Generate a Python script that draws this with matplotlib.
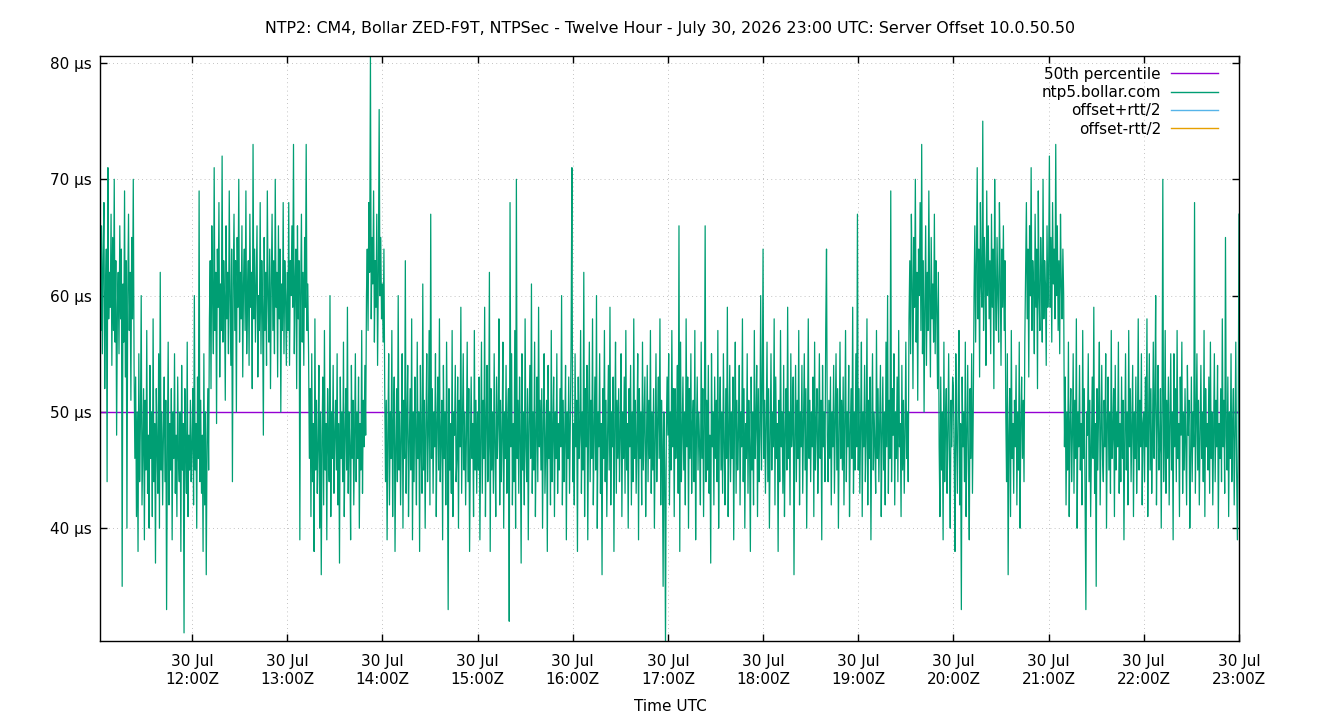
import pandas as pd
import matplotlib
matplotlib.use("Agg")
import matplotlib.pyplot as plt
import matplotlib.dates as mdates
from matplotlib.lines import Line2D

# offset samples (µs), 30 s apart, one list per hour
h11 = [61, 57, 66, 55, 63, 68, 52, 60, 64, 44, 71, 58, 62, 59, 67, 54, 65, 57, 70, 56,
       63, 48, 59, 62, 55, 66, 58, 64, 35, 61, 56, 69, 53, 63, 40, 60, 67, 57, 62, 51,
       65, 58, 70, 54,
       46, 53, 41, 50, 38, 55, 44, 49, 60, 42, 47, 52, 39, 51, 45, 57, 43, 48, 40, 54,
       46, 50, 41, 58, 44, 49, 37, 52, 47, 43, 55, 40, 62, 45, 50, 42, 48, 53, 44, 51,
       33, 47, 56, 42, 49, 45, 52, 39, 50, 46, 55, 43, 48, 41, 53, 46, 44, 50, 38, 54,
       45, 49, 31, 52, 47, 43, 56, 41, 48, 45, 51, 44]
h12 = [47, 52, 42, 60, 45, 49, 40, 53, 46, 69, 44, 51, 43, 48, 38, 55, 42, 50, 36, 47,
       52, 45,
       58, 63, 52, 66, 60, 55, 71, 57, 62, 49, 64, 59, 68, 53, 61, 57, 72, 56, 63, 60,
       51, 66, 58, 62, 55, 69, 60, 54, 64, 44, 61, 67, 57, 63, 50, 65, 59, 70, 56, 62,
       58, 66, 53, 61, 64, 57, 69, 55, 60, 63, 54, 67, 59, 62, 52, 73, 58, 64, 56, 61,
       66, 53, 60, 57, 68, 55, 63, 59, 48, 65, 57, 62, 54, 69, 60, 56, 64, 52, 61, 67,
       57, 63, 55, 70, 59, 62, 53, 66, 58, 64, 50, 61, 57, 68, 55, 63, 60, 54]
h13 = [62, 57, 68, 54, 63, 60, 66, 59, 73, 55, 61, 64, 52, 66, 58, 63, 39, 60, 67, 56,
       62, 54, 65, 59, 73, 57, 61, 55,
       46, 52, 41, 55, 44, 49, 38, 58, 45, 51, 43, 47, 54, 40, 50, 36, 48, 53, 42, 57,
       45, 49, 39, 52, 47, 44, 60, 41, 50, 46, 54, 43, 48, 51, 45, 55, 42, 49, 37, 53,
       46, 50, 44, 56, 41, 48, 52, 45, 59, 43, 50, 47, 39, 54, 46, 51, 42, 48, 55, 44,
       50, 46, 53, 40, 49, 45, 57, 43, 51, 47, 54, 48,
       60, 64, 57, 68, 62, 80.6, 58, 65, 61, 69, 56, 63, 59, 67, 54, 62, 76, 60, 65, 58]
h14 = [61, 56, 64, 52,
       44, 51, 39, 48, 55, 42, 50, 46, 57, 41, 49, 53, 38, 47, 52, 44, 60, 45, 50, 42,
       48, 55, 40, 51, 46, 63, 43, 49, 54, 41, 47, 52, 45, 58, 39, 50, 44, 53, 48, 42,
       56, 46, 50, 38, 54, 47, 43, 61, 45, 51, 40, 49, 55, 44, 48, 57, 42, 67, 46, 52,
       43, 50, 47, 55, 41, 49, 53, 45, 58, 44, 48, 51, 39, 54, 46, 50, 42, 56, 47, 33,
       52, 45, 49, 43, 57, 41, 50, 48, 54, 44, 46, 53, 40, 51, 47, 59, 43, 49, 55, 45,
       50, 42, 48, 56, 44, 52, 38, 47, 53, 46, 49, 41, 57, 45, 51, 43]
h15 = [50, 45, 53, 39, 48, 56, 43, 51, 46, 59, 41, 49, 54, 44, 47, 62, 38, 52, 45, 50,
       43, 55, 47, 41, 53, 46, 49, 58, 42, 51, 44, 48, 56, 40, 50, 46, 54, 43, 49, 52,
       32, 68, 47, 55, 42, 49, 44, 57, 40, 70, 46, 51, 43, 53, 48, 37, 55, 45, 50, 42,
       58, 47, 44, 52, 39, 49, 54, 46, 61, 43, 50, 45, 56, 41, 48, 53, 44, 59, 47, 51,
       45, 52, 40, 49, 55, 43, 47, 51, 38, 54, 46, 50, 42, 57, 44, 48, 53, 41, 50, 46,
       55, 43, 49, 45, 52, 47, 60, 42, 51, 44, 48, 54, 39, 50, 46, 53, 43, 49, 56, 71]
h16 = [44, 49, 42, 55, 47, 51, 38, 53, 46, 48, 57, 43, 50, 45, 62, 41, 52, 47, 54, 39,
       49, 56, 44, 51, 46, 58, 42, 48, 53, 45, 60, 40, 50, 47, 55, 43, 49, 36, 52, 46,
       57, 44, 51, 41, 48, 54, 45, 59, 42, 50, 47, 53, 38, 49, 56, 43, 51, 46, 52, 44,
       48, 55, 41, 50, 46, 53, 43, 57, 45, 49, 40, 52, 47, 54, 42, 50, 44, 58, 46, 51,
       43, 48, 55, 39, 52, 46, 50, 42, 56, 45, 49, 53, 41, 47, 54, 44, 51, 46, 57, 43,
       50, 45, 52, 40, 48, 55, 44, 49, 53, 46, 58, 42, 51, 47, 35, 50, 45, 30, 48, 53]
h17 = [48, 55, 42, 50, 45, 57, 47, 52, 41, 52, 46, 49, 54, 43, 66, 38, 56, 44, 48, 53,
       45, 50, 42, 58, 47, 53, 40, 52, 46, 55, 43, 49, 51, 44, 57, 39, 48, 53, 45, 50,
       47, 42, 56, 46, 52, 41, 49, 66, 44, 51, 45, 54, 43, 48, 37, 55, 47, 50, 42, 53,
       46, 51, 44, 57, 40, 49, 53, 45, 50, 43, 55, 47, 42, 52, 46, 59, 41, 48, 54, 44,
       50, 46, 53, 39, 49, 56, 43, 51, 45, 48, 54, 42, 50, 47, 58, 44, 52, 40, 49, 46,
       55, 43, 51, 47, 38, 53, 45, 50, 42, 57, 46, 49, 54, 41, 52, 44, 48, 60, 45, 51]
h18 = [64, 46, 51, 43, 49, 56, 44, 52, 40, 48, 55, 45, 50, 47, 58, 42, 53, 46, 49, 38,
       51, 44, 57, 47, 50, 43, 54, 41, 48, 52, 45, 59, 46, 50, 42, 55, 47, 49, 53, 36,
       48, 54, 44, 51, 46, 57, 42, 50, 47, 54, 43, 49, 55, 45, 52, 40, 48, 58, 46, 51,
       44, 50, 47, 53, 41, 56, 45, 49, 52, 43, 48, 55, 46, 51, 39, 54, 47, 50, 44, 57,
       64, 48, 44, 51, 46, 53, 42, 50, 47, 54, 43, 49, 55, 45, 52, 40, 48, 56, 46, 51,
       45, 53, 42, 49, 57, 44, 50, 47, 54, 41, 48, 52, 46, 59, 43, 50, 45, 55, 47, 67]
h19 = [45, 52, 43, 49, 56, 41, 50, 47, 54, 44, 48, 58, 42, 51, 46, 53, 39, 49, 55, 45,
       50, 47, 43, 57, 46, 52, 44, 49, 54, 41, 48, 53, 45, 50, 42, 56, 47, 60, 43, 51,
       46, 69, 44, 52, 48, 55, 42, 50, 46, 53, 44, 57, 47, 49, 41, 54, 45, 51, 43, 48,
       56, 46, 50, 44,
       58, 63, 55, 67, 61, 52, 65, 59, 70, 56, 62, 51, 64, 60, 68, 57, 73, 55, 63, 50,
       59, 66, 54, 62, 57, 69, 60, 53, 65, 58, 61, 56, 67, 55, 63, 59, 52, 62,
       47, 41, 53, 45, 50, 39, 56, 44, 49, 52, 43, 48, 55, 46, 40, 51, 47, 53]
h20 = [52, 46, 38, 55, 48, 43, 51, 57, 42, 49, 33, 53, 47, 50, 44, 56, 41, 48, 54, 45,
       39, 52, 46, 55, 43, 50,
       60, 66, 56, 63, 71, 58, 64, 53, 68, 61, 59, 75, 57, 65, 62, 54, 69, 60, 66, 58,
       63, 55, 67, 59, 64, 52, 70, 61, 57, 65, 60, 56, 68, 62, 54, 64, 59, 66, 57, 63,
       50, 44, 55, 36, 48, 52, 41, 57, 46, 49, 43, 51, 47, 54, 42, 50, 45, 56, 40, 49,
       53, 46, 51, 44,
       56, 62, 68, 58, 64, 53, 66, 60, 71, 57, 63, 61, 55, 67, 59, 64, 52, 69, 60, 57,
       65, 62, 56, 70, 58, 63, 61, 54, 66, 59]
h21 = [62, 72, 59, 65, 56, 68, 61, 64, 58, 73, 60, 66, 57, 63, 55, 67, 61, 58, 64, 60,
       47, 53, 42, 50, 45, 56, 41, 49, 52, 44, 48, 55, 43, 51, 46, 58, 40, 50, 47, 54,
       45, 49, 42, 57, 46, 52, 43, 33, 50, 48, 55, 44, 51, 41, 47, 53, 46, 59, 43, 49,
       35, 52, 45, 50, 56, 42, 48, 54, 46, 44, 51, 47, 55, 40, 49, 53, 45, 50, 43, 57,
       46, 48, 52, 41, 54, 45, 50, 47, 56, 43, 49, 44, 53, 46, 51, 39, 48, 55, 45, 50,
       42, 57, 47, 52, 44, 49, 54, 41, 50, 46, 53, 43, 48, 58, 45, 51, 47, 55, 42, 49]
h22 = [50, 44, 53, 47, 58, 41, 49, 55, 45, 52, 43, 48, 56, 46, 51, 60, 42, 49, 54, 45,
       47, 52, 40, 50, 70, 44, 48, 57, 43, 51, 46, 53, 42, 49, 55, 45, 50, 39, 55, 47,
       52, 44, 57, 46, 49, 41, 53, 48, 56, 43, 50, 45, 52, 47, 42, 54, 48, 51, 40, 46,
       53, 44, 50, 47, 68, 43, 49, 55, 45, 51, 42, 48, 54, 46, 50, 44, 57, 41, 52, 47,
       49, 45, 53, 43, 56, 46, 50, 42, 48, 55, 44, 51, 47, 54, 40, 49, 46, 52, 44, 58,
       47, 51, 43, 65, 48, 45, 53, 41, 50, 46, 55, 44, 49, 52, 42, 48, 56, 45, 39, 47, 67]

p50 = 50.0
t_start = "2026-07-30 11:02"
t_end = "2026-07-30 23:00"
title = "NTP2: CM4, Bollar ZED-F9T, NTPSec - Twelve Hour - July 30, 2026 23:00 UTC: Server Offset 10.0.50.50"

offset = h11 + h12 + h13 + h14 + h15 + h16 + h17 + h18 + h19 + h20 + h21 + h22
times = pd.date_range(t_start, t_end, periods=len(offset))

plt.rcParams["font.family"] = ["DejaVu Sans"]

fig = plt.figure(figsize=(13.4, 7.2), dpi=100)
ax = fig.add_axes([0.0746, 0.1097, 0.85, 0.8125])

ax.plot([times[0], times[-1]], [p50, p50], color="#9400d3", lw=1.0)
ax.plot(times, offset, color="#009e73", lw=0.9)

ax.set_xlim(times[0], times[-1])
ax.set_ylim(30.3, 80.6)

ax.xaxis.set_major_locator(mdates.HourLocator())
ax.xaxis.set_major_formatter(mdates.DateFormatter("%d %b\n%H:%MZ"))
ax.set_yticks([40, 50, 60, 70, 80])
ax.set_yticklabels([f"{v} µs" for v in [40, 50, 60, 70, 80]])
ax.tick_params(direction="in", top=True, right=True, length=5, width=1,
               labelsize=11)
ax.tick_params(axis="x", pad=9.5)
ax.tick_params(axis="y", pad=6)
for lbl in ax.get_xticklabels():
    lbl.set_linespacing(1.2)
for s in ax.spines.values():
    s.set_linewidth(1.0)
ax.grid(True, color="#b0b0b0", lw=0.6, linestyle=(0, (1, 4)))

fig.text(0.5, 0.96, title, ha="center", va="center", fontsize=11.4)
fig.text(0.5, 0.019, "Time UTC", ha="center", va="center", fontsize=11)

handles = [
    Line2D([], [], color="#9400d3", lw=1.0),
    Line2D([], [], color="#009e73", lw=1.0),
    Line2D([], [], color="#56b4e9", lw=1.0),
    Line2D([], [], color="#e69f00", lw=1.0),
]
labels = ["50th percentile", "ntp5.bollar.com", "offset+rtt/2", "offset-rtt/2"]
ax.legend(handles, labels, loc="upper right", bbox_to_anchor=(0.9912, 1.0),
          frameon=False, markerfirst=False, fontsize=11, handlelength=3.1,
          handletextpad=0.65, labelspacing=0.22, borderaxespad=0.3)

fig.savefig("out.png", dpi=100)
